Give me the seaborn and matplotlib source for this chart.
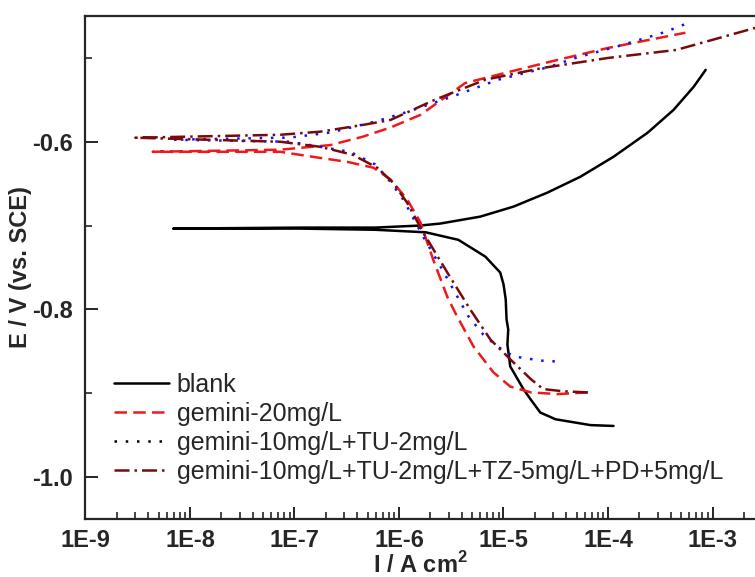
import numpy as np
import pandas as pd
import matplotlib
matplotlib.use("Agg")
import matplotlib.pyplot as plt
import seaborn as sns
from matplotlib.lines import Line2D
from matplotlib.ticker import LogLocator, NullFormatter, FixedLocator

# === DATA ===
# each curve runs cathodic end -> left tip (Ecorr) -> anodic end
blank_i = [1.13e-4, 6.8e-5, 3.14e-5, 2.25e-5, 1.81e-5, 1.55e-5, 1.16e-5, 1.09e-5, 1.11e-5,
           1.07e-5, 1.05e-5, 1.0e-5, 9.3e-6, 6.7e-6, 3.7e-6, 1.8e-6, 5.9e-7, 1.13e-7, 6.9e-9,
           1.13e-7, 5.9e-7, 1.57e-6, 2.48e-6, 6.0e-6, 1.245e-5, 2.63e-5, 5.45e-5, 1.13e-4,
           2.39e-4, 4.24e-4, 6.6e-4, 8.6e-4]
blank_e = [-0.939, -0.938, -0.931, -0.923, -0.907, -0.895, -0.868, -0.842, -0.824,
           -0.812, -0.788, -0.770, -0.756, -0.737, -0.717, -0.708, -0.705, -0.7036, -0.7036,
           -0.7024, -0.7024, -0.700, -0.6976, -0.6893, -0.6774, -0.6607, -0.6417, -0.6179,
           -0.5893, -0.562, -0.5345, -0.5143]

g20_i = [6.4e-5, 3.3e-5, 1.83e-5, 1.16e-5, 8.0e-6, 5.15e-6, 3.45e-6, 2.9e-6, 2.13e-6, 1.6e-6,
         1.2e-6, 8.3e-7, 5.7e-7, 3.2e-7, 1.5e-7, 7.3e-8, 4.4e-9,
         7.3e-8, 2.2e-7, 4.5e-7, 8.3e-7, 1.6e-6, 4.3e-6, 1.11e-5, 2.7e-5, 1.01e-4, 5.5e-4]
g20_e = [-0.899, -0.901, -0.899, -0.892, -0.875, -0.844, -0.804, -0.785, -0.741, -0.696,
         -0.669, -0.645, -0.631, -0.624, -0.618, -0.612, -0.612,
         -0.6095, -0.604, -0.594, -0.583, -0.568, -0.530, -0.517, -0.505, -0.488, -0.470]

tu_i = [3.1e-5, 2.26e-5, 1.25e-5, 8.7e-6, 6.4e-6, 4.6e-6, 2.5e-6, 1.7e-6, 1.1e-6, 8.3e-7,
        5.9e-7, 3.4e-7, 1.76e-7, 9.1e-8, 6.9e-9,
        9.1e-8, 2.2e-7, 5.9e-7, 1.23e-6, 3.25e-6, 8.9e-6, 2.7e-5, 4.9e-5, 1.38e-4, 3.55e-4, 6.2e-4]
tu_e = [-0.862, -0.861, -0.856, -0.844, -0.830, -0.808, -0.749, -0.713, -0.669, -0.648,
        -0.627, -0.612, -0.606, -0.600, -0.5976,
        -0.595, -0.589, -0.576, -0.564, -0.546, -0.526, -0.511, -0.500, -0.4845, -0.469, -0.457]

mix_i = [6.4e-5, 3.7e-5, 2.4e-5, 1.82e-5, 1.16e-5, 7.5e-6, 4.8e-6, 2.9e-6, 1.7e-6, 1.2e-6,
         8.8e-7, 6.2e-7, 3.6e-7, 1.76e-7, 7.3e-8, 3.0e-9,
         7.3e-8, 1.76e-7, 4.5e-7, 8.3e-7, 2.2e-6, 6.7e-6, 2.36e-5, 1.01e-4, 4.5e-4, 2.55e-3, 3.0e-3]
mix_e = [-0.899, -0.8976, -0.895, -0.883, -0.8595, -0.836, -0.800, -0.756, -0.708, -0.673,
         -0.649, -0.631, -0.6155, -0.606, -0.600, -0.5952,
         -0.5917, -0.588, -0.580, -0.574, -0.550, -0.526, -0.512, -0.500, -0.4905, -0.4643, -0.462]

labels = ["blank", "gemini-20mg/L", "gemini-10mg/L+TU-2mg/L",
          "gemini-10mg/L+TU-2mg/L+TZ-5mg/L+PD+5mg/L"]
x_ticks = [1e-9, 1e-8, 1e-7, 1e-6, 1e-5, 1e-4, 1e-3]
x_ticklabels = ["1E-9", "1E-8", "1E-7", "1E-6", "1E-5", "1E-4", "1E-3"]
y_ticks = [-1.0, -0.8, -0.6]


def make_frame():
    parts = []
    for lab, i, e in zip(labels, [blank_i, g20_i, tu_i, mix_i], [blank_e, g20_e, tu_e, mix_e]):
        parts.append(pd.DataFrame({"I": i, "E": e, "sample": lab}))
    return pd.concat(parts, ignore_index=True)


df = make_frame()

sns.set_style("ticks")
plt.rcParams['font.family'] = ['Liberation Sans', 'DejaVu Sans']
plt.rcParams['mathtext.fontset'] = 'custom'
plt.rcParams['mathtext.bf'] = 'Liberation Sans:bold'
plt.rcParams['mathtext.rm'] = 'Liberation Sans'

fig = plt.figure(figsize=(7.55, 5.77), dpi=100)
ax = fig.add_axes([0.1132, 0.1005, 0.8868, 0.8718])

LW = 1.8
styles = {
    labels[0]: dict(color="black", linestyle="-"),
    labels[1]: dict(color="#f01818", linestyle=(0, (5, 2.5))),
    labels[2]: dict(color="#1010ff", linestyle=(0, (1, 3.5))),
    labels[3]: dict(color="#7a0a0a", linestyle=(0, (6, 2, 1, 2))),
}

for lab in labels:
    sub = df[df["sample"] == lab]
    sns.lineplot(data=sub, x="I", y="E", sort=False, estimator=None, ax=ax,
                 linewidth=LW, legend=False, **styles[lab])

ax.set_xscale("log")
ax.set_xlim(1e-9, 2.55e-3)
ax.set_ylim(-1.05, -0.45)

ax.xaxis.set_major_locator(FixedLocator(x_ticks))
ax.set_xticklabels(x_ticklabels)
ax.xaxis.set_minor_locator(LogLocator(base=10, subs=np.arange(2, 10), numticks=20))
ax.xaxis.set_minor_formatter(NullFormatter())
ax.yaxis.set_major_locator(FixedLocator(y_ticks))
ax.set_yticklabels(["%.1f" % v for v in y_ticks])
ax.yaxis.set_minor_locator(FixedLocator([-0.9, -0.7, -0.5]))

ax.tick_params(which="major", direction="in", length=9, width=1.4, labelsize=17,
               top=False, right=False)
ax.tick_params(axis="x", which="major", pad=7)
ax.tick_params(axis="y", which="major", pad=9)
ax.tick_params(which="minor", direction="in", length=5, width=1.2, top=False, right=False)
for t in ax.get_xticklabels() + ax.get_yticklabels():
    t.set_fontweight("bold")

for s in ["left", "bottom", "top"]:
    ax.spines[s].set_linewidth(1.6)
ax.spines["right"].set_visible(False)

ax.set_xlabel(r"I / A cm$^\mathbf{2}$", fontsize=17, fontweight="bold", labelpad=0)
ax.set_ylabel("E / V (vs. SCE)", fontsize=17, fontweight="bold", labelpad=0)

handles = [
    Line2D([], [], color="black", linestyle="-", linewidth=LW),
    Line2D([], [], color="#f01818", linestyle=(0, (5, 2.5)), linewidth=LW),
    Line2D([], [], color="black", linestyle=(0, (1, 3.5)), linewidth=LW),
    Line2D([], [], color="#7a0a0a", linestyle=(0, (6, 2, 1, 2)), linewidth=LW),
]
ax.legend(handles, labels, loc="lower left", bbox_to_anchor=(0.043, 0.07), frameon=False,
          fontsize=18, handlelength=2.2, handletextpad=0.3, labelspacing=0.2,
          borderaxespad=0, borderpad=0)

fig.savefig("out.png", dpi=100)
